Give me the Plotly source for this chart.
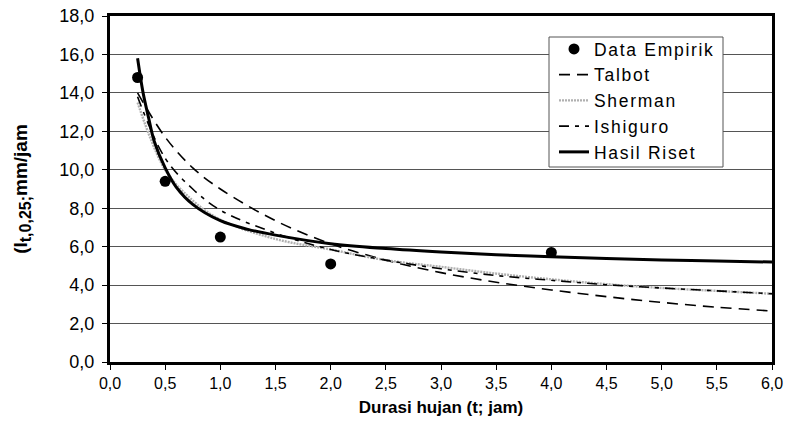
import plotly.graph_objects as go

# ---- data ----
t_data = [0.25, 0.5, 1.0, 2.0, 4.0]
i_data = [14.8, 9.4, 6.5, 5.1, 5.7]

t_curve = [0.25, 0.5, 0.75, 1.0, 1.5, 2.0, 2.5, 3.0, 3.5, 4.0, 4.5, 5.0, 5.5, 6.0]
talbot = [14.0, 11.7, 10.1, 9.0, 7.35, 6.15, 5.3, 4.65, 4.15, 3.75, 3.4, 3.1, 2.85, 2.65]
sherman = [13.5, 10.0, 8.4, 7.4, 6.4, 5.85, 5.3, 4.95, 4.6, 4.3, 4.05, 3.85, 3.7, 3.55]
ishiguro = [13.8, 10.6, 9.0, 7.9, 6.7, 5.85, 5.3, 4.85, 4.5, 4.25, 4.02, 3.85, 3.7, 3.55]

t_riset = [0.25, 0.3, 0.35, 0.4, 0.5, 0.6, 0.75, 1.0, 1.25, 1.5, 2.0, 2.5, 3.0, 3.5, 4.0, 4.5, 5.0, 5.5, 6.0]
riset = [15.8, 14.0, 12.7, 11.5, 10.1, 9.1, 8.2, 7.35, 6.9, 6.6, 6.15, 5.9, 5.72, 5.58, 5.47, 5.38, 5.31, 5.25, 5.2]

series_names = ["Data Empirik", "Talbot", "Sherman", "Ishiguro", "Hasil Riset"]

x_ticks = [0.0, 0.5, 1.0, 1.5, 2.0, 2.5, 3.0, 3.5, 4.0, 4.5, 5.0, 5.5, 6.0]
x_ticktext = ["0,0", "0,5", "1,0", "1,5", "2,0", "2,5", "3,0", "3,5", "4,0", "4,5", "5,0", "5,5", "6,0"]
y_ticks = [0, 2, 4, 6, 8, 10, 12, 14, 16, 18]
y_ticktext = ["0,0", "2,0", "4,0", "6,0", "8,0", "10,0", "12,0", "14,0", "16,0", "18,0"]

FONT = "Liberation Sans, Arial, sans-serif"

L, R, T, B = 110, 14, 16, 59
W, H = 786, 421
PW, PH = W - L - R, H - T - B


def px_x(px):
    return (px - L) / PW


def px_y(py):
    return (H - B - py) / PH


def lg(name):
    return "<span style='letter-spacing:1.7px'>" + name + "</span>"


fig = go.Figure()
fig.add_trace(go.Scatter(x=t_data, y=i_data, mode="markers", name=lg(series_names[0]),
                         marker=dict(color="black", size=11)))
fig.add_trace(go.Scatter(x=t_curve, y=talbot, mode="lines", name=lg(series_names[1]),
                         line=dict(color="black", width=1.6, dash="11px,7px", shape="spline")))
fig.add_trace(go.Scatter(x=t_curve, y=sherman, mode="lines", name=lg(series_names[2]),
                         line=dict(color="#b0b0b0", width=2.4, dash="2px,1px", shape="spline")))
fig.add_trace(go.Scatter(x=t_curve, y=ishiguro, mode="lines", name=lg(series_names[3]),
                         line=dict(color="black", width=1.6, dash="10px,6px,4px,6px", shape="spline")))
fig.add_trace(go.Scatter(x=t_riset, y=riset, mode="lines", name=lg(series_names[4]),
                         line=dict(color="black", width=3, shape="spline")))

# legend frame (white box with thin border)
fig.add_shape(type="rect", xref="paper", yref="paper",
              x0=px_x(549), x1=px_x(723), y0=px_y(167), y1=px_y(37),
              fillcolor="white", line=dict(color="#555", width=1), layer="above")

fig.update_layout(
    width=W, height=H,
    margin=dict(l=L, r=R, t=T, b=B),
    paper_bgcolor="white", plot_bgcolor="white",
    font=dict(family=FONT, color="black"),
    showlegend=True,
    legend=dict(x=px_x(554), y=px_y(31), xanchor="left", yanchor="top",
                bgcolor="rgba(0,0,0,0)", borderwidth=0,
                font=dict(size=17.5, family=FONT), itemwidth=30,
                tracegroupgap=0),
)
fig.update_xaxes(
    range=[0, 6], tickvals=x_ticks, ticktext=x_ticktext,
    showgrid=False, zeroline=False, automargin=False,
    showline=True, linecolor="black", linewidth=3, mirror=True,
    ticks="outside", ticklen=5, tickcolor="black", tickwidth=1,
    tickfont=dict(size=16, family=FONT),
    title=dict(text="<b>Durasi hujan (t; jam)</b>", font=dict(size=17, family=FONT), standoff=10),
)
fig.update_yaxes(
    range=[0, 18], tickvals=y_ticks, ticktext=y_ticktext,
    showgrid=True, gridcolor="#555", gridwidth=1, zeroline=False, automargin=False,
    showline=True, linecolor="black", linewidth=3, mirror=True,
    ticks="outside", ticklen=5, tickcolor="black", tickwidth=1, ticklabelstandoff=4,
    tickfont=dict(size=18, family=FONT),
    title=dict(text="<b>(I<sub><span style='font-size:16px'>t,0,25;</span></sub>mm/jam</b>",
               font=dict(size=19, family=FONT), standoff=27),
)

fig.write_html("out.html")
